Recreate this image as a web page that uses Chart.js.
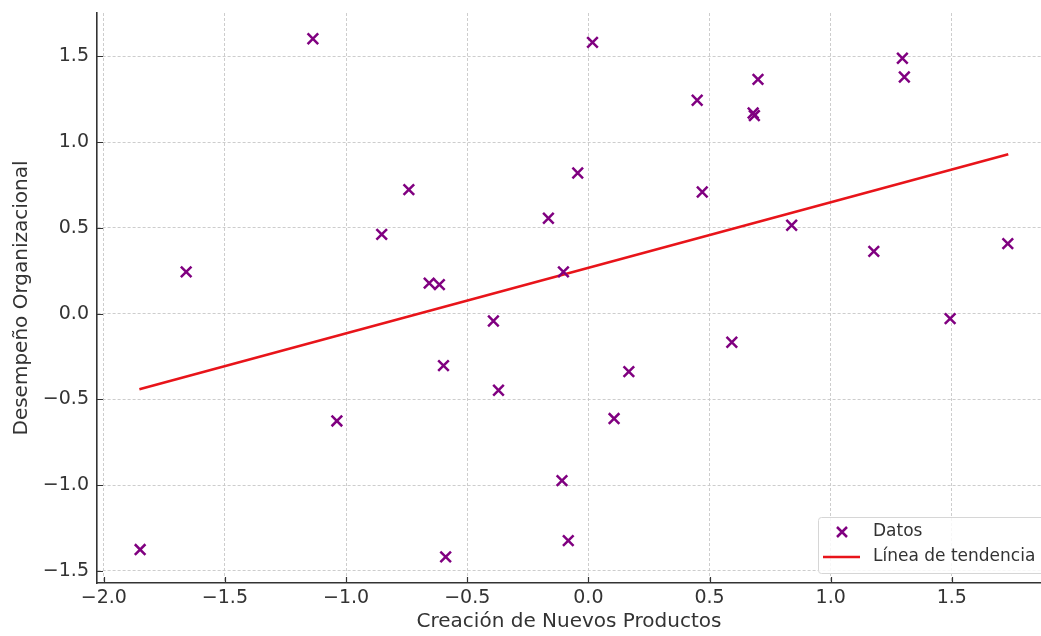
<!DOCTYPE html>
<html>
<head>
<meta charset="utf-8">
<script src="https://cdn.jsdelivr.net/npm/chart.js@4.4.1/dist/chart.umd.min.js"></script>
<style>
  html, body { margin: 0; padding: 0; background: #fff; }
  #wrap { width: 1041px; height: 636px; position: relative; }
</style>
</head>
<body>
<div id="wrap"><canvas id="chart"></canvas></div>
<script>
// values
const datosX = [-1.850, -1.660, -1.137, -1.038, -0.853, -0.741, -0.657, -0.615,
                -0.598, -0.589, -0.392, -0.371, -0.165, -0.109, -0.103, -0.083,
                -0.044, 0.017, 0.106, 0.167, 0.449, 0.470, 0.592, 0.680,
                0.685, 0.700, 0.839, 1.178, 1.296, 1.304, 1.493, 1.731];
const datosY = [-1.376, 0.243, 1.603, -0.626, 0.462, 0.723, 0.178, 0.169,
                -0.303, -1.419, -0.043, -0.447, 0.556, -0.974, 0.243, -1.324,
                0.820, 1.582, -0.612, -0.338, 1.244, 0.709, -0.167, 1.170,
                1.155, 1.366, 0.515, 0.363, 1.489, 1.380, -0.029, 0.408];
const tendenciaX = [-1.853, 1.733];
const tendenciaY = [-0.441, 0.929];

const xTitle = 'Creación de Nuevos Productos';
const yTitle = 'Desempeño Organizacional';
const legendLabels = ['Datos', 'Línea de tendencia'];

const PURPLE = '#800080';
const RED = '#e8141a';
const TEXT = '#333333';
const FONT = "'DejaVu Sans', sans-serif";

const fmt = v => (v < 0 ? '\u2212' : '') + Math.abs(v).toFixed(1);

// ticks pointing into the plot, like the original
const innerTicks = {
    id: 'innerTicks',
    afterDatasetsDraw(chart) {
        const { ctx, chartArea, scales } = chart;
        const len = 6;
        ctx.save();
        ctx.strokeStyle = TEXT;
        ctx.lineWidth = 1.2;
        ctx.beginPath();
        scales.x.ticks.forEach(t => {
            const px = Math.round(scales.x.getPixelForValue(t.value)) + 0.5;
            ctx.moveTo(px, chartArea.bottom);
            ctx.lineTo(px, chartArea.bottom - len);
        });
        scales.y.ticks.forEach(t => {
            const py = Math.round(scales.y.getPixelForValue(t.value)) + 0.5;
            ctx.moveTo(chartArea.left, py);
            ctx.lineTo(chartArea.left + len, py);
        });
        ctx.stroke();
        ctx.restore();
    }
};

// matplotlib-style legend box in the lower right corner
const legendBox = {
    id: 'legendBox',
    afterDraw(chart) {
        const ctx = chart.ctx;
        const x = 818, y = 517, w = 240, h = 56;
        ctx.save();
        ctx.fillStyle = 'rgba(255,255,255,0.85)';
        ctx.strokeStyle = '#d6d6d6';
        ctx.lineWidth = 1;
        ctx.beginPath();
        ctx.roundRect(x + 0.5, y + 0.5, w, h, 3);
        ctx.fill();
        ctx.stroke();

        // marker
        ctx.strokeStyle = PURPLE;
        ctx.lineWidth = 2.5;
        const mx = 842, my = 532, r = 5;
        ctx.beginPath();
        ctx.moveTo(mx - r, my - r); ctx.lineTo(mx + r, my + r);
        ctx.moveTo(mx + r, my - r); ctx.lineTo(mx - r, my + r);
        ctx.stroke();

        // line
        ctx.strokeStyle = RED;
        ctx.lineWidth = 2.5;
        ctx.beginPath();
        ctx.moveTo(823, 557); ctx.lineTo(860, 557);
        ctx.stroke();

        ctx.fillStyle = TEXT;
        ctx.font = '17px ' + FONT;
        ctx.textBaseline = 'middle';
        ctx.fillText(legendLabels[0], 873, 532);
        ctx.fillText(legendLabels[1], 873, 557);
        ctx.restore();
    }
};

const gridOpts = {
    color: 'rgba(200,200,200,0.9)',
    lineWidth: 1,
    drawTicks: false
};
const borderOpts = { display: true, color: TEXT, width: 1.6, dash: [3, 2] };

new Chart(document.getElementById('chart'), {
    type: 'scatter',
    data: {
        datasets: [
            {
                label: legendLabels[0],
                data: datosX.map((x, i) => ({ x, y: datosY[i] })),
                pointStyle: 'crossRot',
                pointRadius: 7.5,
                pointHoverRadius: 7.5,
                borderColor: PURPLE,
                backgroundColor: PURPLE,
                pointBorderWidth: 2.5,
                order: 1
            },
            {
                label: legendLabels[1],
                data: tendenciaX.map((x, i) => ({ x, y: tendenciaY[i] })),
                showLine: true,
                borderColor: RED,
                borderWidth: 2.5,
                pointRadius: 0,
                order: 2
            }
        ]
    },
    options: {
        responsive: true,
        maintainAspectRatio: false,
        animation: false,
        layout: { autoPadding: false, padding: { top: 13, right: 0, left: 0, bottom: 0 } },
        plugins: {
            legend: { display: false },
            tooltip: { enabled: false }
        },
        scales: {
            x: {
                type: 'linear',
                min: -2.028,
                max: 1.868,
                afterFit(scale) {
                    scale.height = 53;
                    scale.paddingLeft = 0;
                    scale.paddingRight = 0;
                },
                border: borderOpts,
                grid: gridOpts,
                ticks: {
                    stepSize: 0.5,
                    includeBounds: false,
                    color: TEXT,
                    padding: 4,
                    font: { family: FONT, size: 19 },
                    callback: v => fmt(v)
                },
                title: {
                    display: true,
                    text: xTitle,
                    color: TEXT,
                    padding: { top: 0, bottom: 2 },
                    font: { family: FONT, size: 20 }
                }
            },
            y: {
                type: 'linear',
                min: -1.571,
                max: 1.753,
                afterFit(scale) {
                    scale.width = 97;
                    scale.paddingTop = 0;
                    scale.paddingBottom = 0;
                },
                border: borderOpts,
                grid: gridOpts,
                ticks: {
                    stepSize: 0.5,
                    includeBounds: false,
                    color: TEXT,
                    padding: 8,
                    font: { family: FONT, size: 19 },
                    callback: v => fmt(v)
                },
                title: {
                    display: true,
                    text: yTitle,
                    color: TEXT,
                    padding: { top: 10, bottom: 0 },
                    font: { family: FONT, size: 20 }
                }
            }
        }
    },
    plugins: [innerTicks, legendBox]
});
</script>
</body>
</html>
